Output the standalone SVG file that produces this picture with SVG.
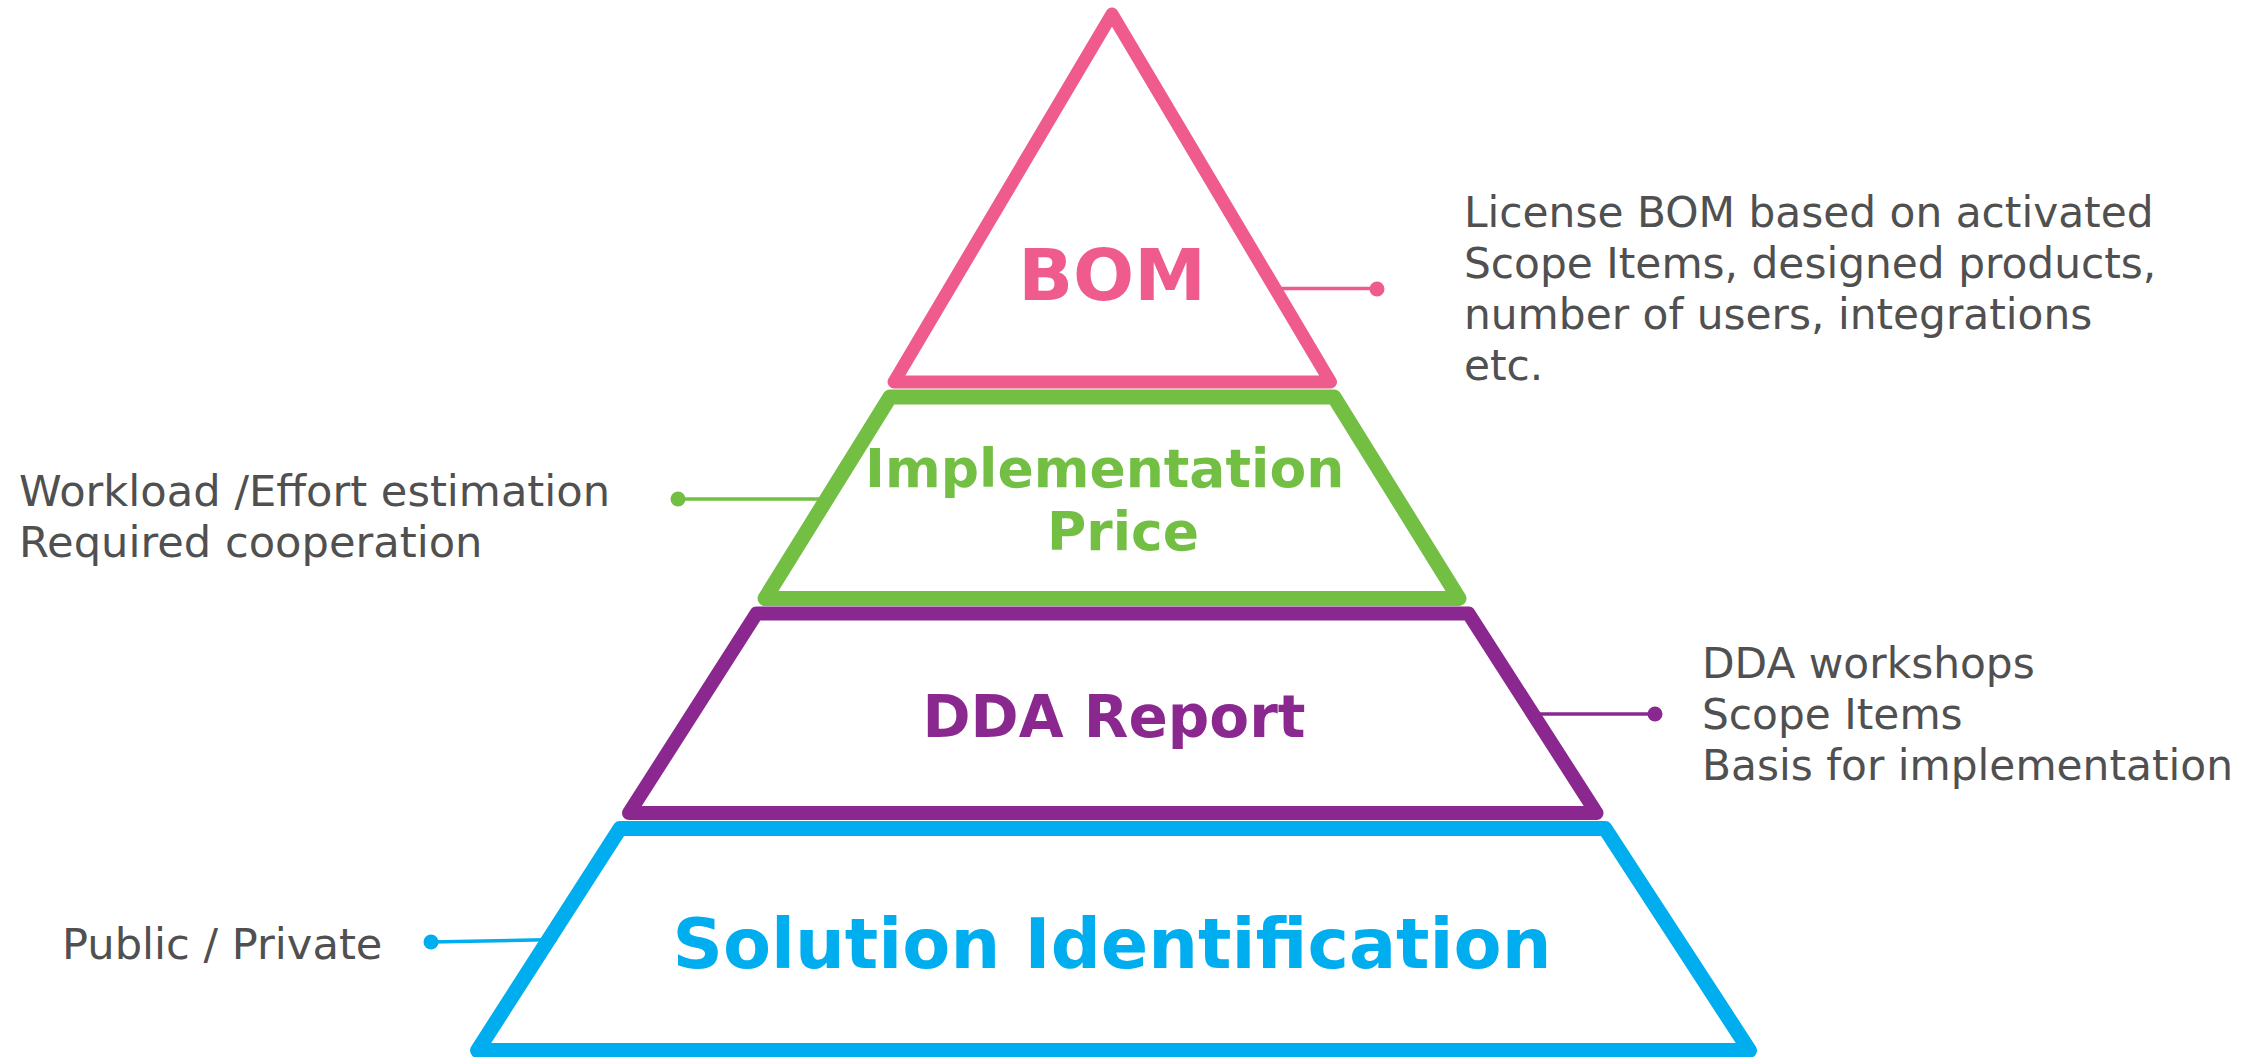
<svg xmlns="http://www.w3.org/2000/svg" width="2265" height="1057" viewBox="0 0 2265 1057">
  <style>
    .tier { fill: #ffffff; stroke-linejoin: round; stroke-linecap: round; }
    .title { font-family: "DejaVu Sans", Verdana, sans-serif; font-weight: bold; text-anchor: middle; }
    .note { font-family: "DejaVu Sans", Verdana, sans-serif; font-size: 42.3px; fill: #505050; }
    .note-left { font-size: 43.2px; }
    .link { fill: none; stroke-width: 3.5; }
  </style>
  <rect width="2265" height="1057" fill="#ffffff"/>

  <!-- Pyramid tiers, bottom to top -->
  <g id="solution-identification">
    <polygon class="tier" points="620,828.5 1605,828.5 1749.5,1050.5 477.5,1050.5" stroke="#00AEEF" stroke-width="15"/>
    <text class="title" x="1112" y="968" font-size="70" fill="#00AEEF">Solution Identification</text>
  </g>

  <g id="dda-report">
    <polygon class="tier" points="756.5,613.5 1468.5,613.5 1596.5,813 629,813" stroke="#8A288F" stroke-width="14"/>
    <text class="title" x="1114" y="737" font-size="58" fill="#8A288F">DDA Report</text>
  </g>

  <g id="implementation-price">
    <polygon class="tier" points="890,397 1334,397 1459,598.5 765,598.5" stroke="#72BF44" stroke-width="15"/>
    <text class="title" font-size="53.5" fill="#72BF44">
      <tspan x="1114" y="487">Implementation</tspan>
      <tspan x="1123" y="550">Price</tspan>
    </text>
  </g>

  <g id="bom">
    <polygon class="tier" points="1112,14 1330.5,382 894,382" stroke="#EF5B8C" stroke-width="13"/>
    <text class="title" x="1112" y="300" font-size="72" fill="#EF5B8C">BOM</text>
  </g>

  <!-- Callout connectors -->
  <g id="connectors">
    <line class="link" x1="1275" y1="288.5" x2="1377" y2="288.5" stroke="#EF5B8C"/>
    <circle cx="1377" cy="289" r="7.5" fill="#EF5B8C"/>

    <line class="link" x1="678" y1="499" x2="826" y2="499" stroke="#72BF44"/>
    <circle cx="678" cy="499" r="7.5" fill="#72BF44"/>

    <line class="link" x1="1533" y1="714" x2="1655" y2="714" stroke="#8A288F"/>
    <circle cx="1655" cy="714" r="7.5" fill="#8A288F"/>

    <line class="link" x1="431" y1="942" x2="557" y2="939.5" stroke="#00AEEF"/>
    <circle cx="431" cy="942" r="7.5" fill="#00AEEF"/>
  </g>

  <!-- Callout notes -->
  <g id="note-bom">
    <text class="note">
      <tspan x="1464" y="227">License BOM based on activated</tspan>
      <tspan x="1464" y="278">Scope Items, designed products,</tspan>
      <tspan x="1464" y="329">number of users, integrations</tspan>
      <tspan x="1464" y="380">etc.</tspan>
    </text>
  </g>

  <g id="note-implementation">
    <text class="note note-left">
      <tspan x="19" y="506">Workload /Effort estimation</tspan>
      <tspan x="19" y="557">Required cooperation</tspan>
    </text>
  </g>

  <g id="note-dda">
    <text class="note">
      <tspan x="1702" y="678">DDA workshops</tspan>
      <tspan x="1702" y="729">Scope Items</tspan>
      <tspan x="1702" y="780">Basis for implementation</tspan>
    </text>
  </g>

  <g id="note-solution">
    <text class="note note-left" x="62" y="959">Public / Private</text>
  </g>
</svg>
